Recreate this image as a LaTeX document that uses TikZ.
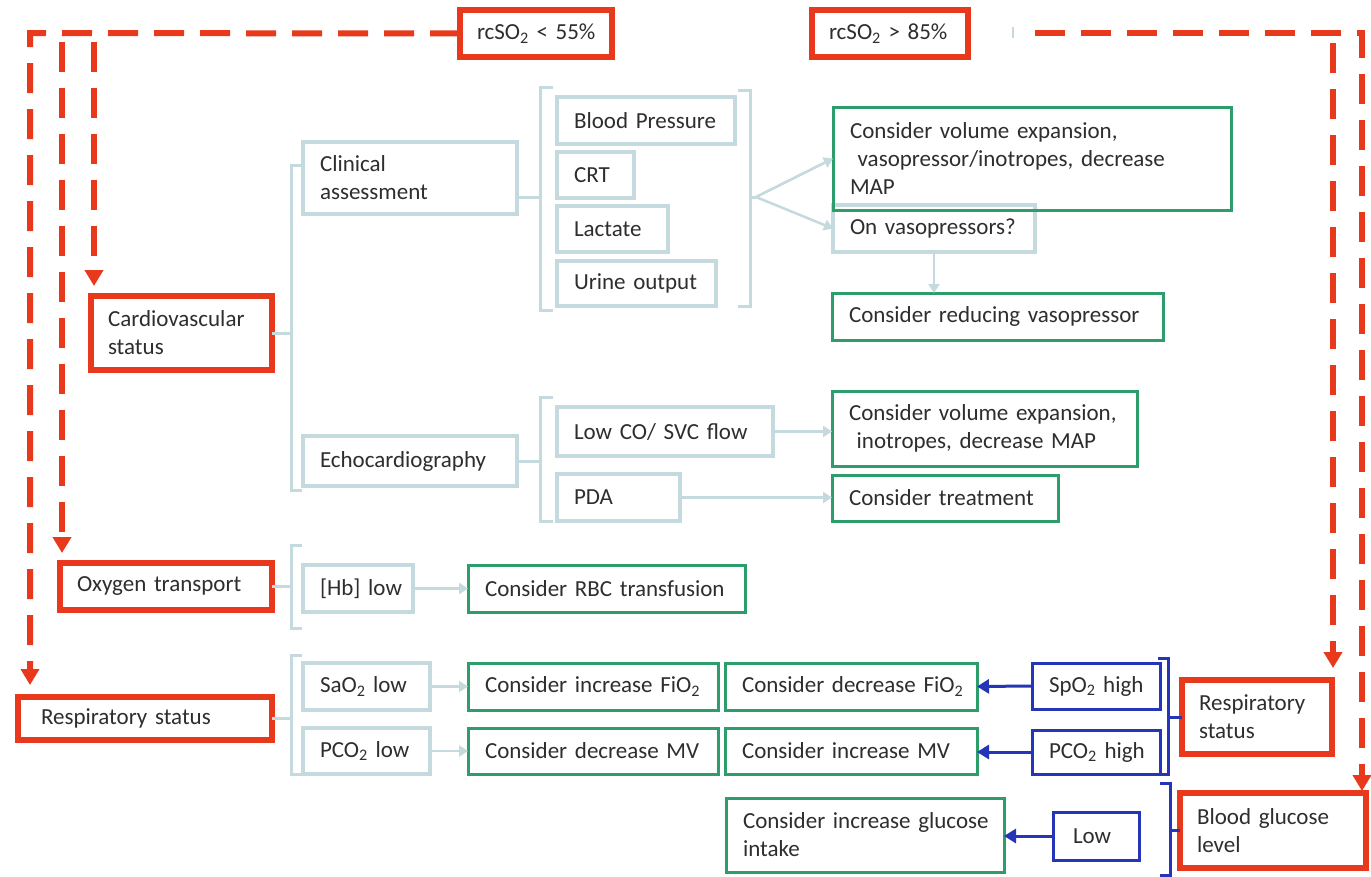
\documentclass[tikz,border=0pt]{standalone}
\usepackage{fontspec}
\setmainfont{Carlito}
\usetikzlibrary{arrows.meta}
\definecolor{rd}{HTML}{E8391D}
\definecolor{gb}{HTML}{C4DADE}
\definecolor{gn}{HTML}{2E9D6C}
\definecolor{bl}{HTML}{2535B8}
\definecolor{tx}{HTML}{2E2E2E}
\begin{document}
\begin{tikzpicture}[x=1pt,y=-1pt,font=\fontsize{23}{28}\selectfont,
  base/.style={anchor=north west, inner xsep=17pt, inner ysep=2pt, outer sep=0pt, align=left, text=tx},
  sz/.style 2 args={minimum width=#1pt, minimum height=#2pt, text width=#1pt-34pt},
  redbox/.style={base, draw=rd, line width=6.5pt},
  graybox/.style={base, draw=gb, line width=3.2pt},
  greenbox/.style={base, draw=gn, line width=3pt},
  bluebox/.style={base, draw=bl, line width=3pt},
  reddash/.style={draw=rd, line width=6pt, dash pattern=on 30pt off 16pt, -{Triangle[width=18pt,length=16pt]}},
  brk/.style={draw=gb, line width=3pt},
  bbrk/.style={draw=bl, line width=3pt},
  garrow/.style={draw=gb, line width=2.5pt, -{Triangle[width=11pt,length=9pt]}},
  barrow/.style={draw=bl, line width=3pt, -{Triangle[width=14pt,length=12pt]}}]
\useasboundingbox (0,0) rectangle (1371,876);
\fill[white] (0,0) rectangle (1371,876);

% red boxes
\node[redbox, sz={152}{47}] (lo) at (460,10) {\mbox{rcSO\textsubscript{2} < 55\%}};
\node[redbox, sz={156}{47}] (hi) at (812,10) {\mbox{rcSO\textsubscript{2} > 85\%}};
\node[redbox, sz={181}{74}] (cv) at (91,296) {\mbox{Cardiovascular}\\status};
\node[redbox, sz={212}{47}] (oxy) at (60,563) {\mbox{Oxygen transport}};
\node[redbox, sz={254}{43}, inner xsep=23pt, text width=208pt] (respL) at (18,697) {\mbox{Respiratory status}};
\node[redbox, sz={150}{74}] (respR) at (1182,680) {Respiratory\\status};
\node[redbox, sz={186}{75}] (glu) at (1180,793) {\mbox{Blood glucose}\\level};

% gray boxes
\node[graybox, sz={214}{72}] (clin) at (303,142) {Clinical\\assessment};
\node[graybox, sz={214}{50}] (echo) at (303,436) {Echocardiography};
\node[graybox, sz={178}{47}] (bp) at (557,97) {\mbox{Blood Pressure}};
\node[graybox, sz={77}{46}] (crt) at (557,152) {CRT};
\node[graybox, sz={111}{46}] (lac) at (557,206) {Lactate};
\node[graybox, sz={159}{45}] (uo) at (557,261) {\mbox{Urine output}};
\node[graybox, sz={202}{47}] (onvaso) at (833,205) {\mbox{On vasopressors?}};
\node[graybox, sz={216}{49}] (lowco) at (557,407) {\mbox{Low CO/ SVC flow}};
\node[graybox, sz={123}{47}] (pda) at (557,474) {PDA};
\node[graybox, sz={110}{47}] (hb) at (303,565) {\mbox{[Hb] low}};
\node[graybox, sz={127}{47}] (sao) at (303,663) {\mbox{SaO\textsubscript{2} low}};
\node[graybox, sz={127}{46}] (pcol) at (303,728) {\mbox{PCO\textsubscript{2} low}};

% green boxes
\node[greenbox, sz={398}{103}] (g1) at (833,107) {\mbox{Consider volume expansion,}\\\mbox{~vasopressor/inotropes, decrease}\\MAP};
\node[greenbox, sz={331}{47}] (g2) at (832,293) {\mbox{Consider reducing vasopressor}};
\node[greenbox, sz={305}{75}] (g3) at (832,391) {\mbox{Consider volume expansion,}\\\mbox{~inotropes, decrease MAP}};
\node[greenbox, sz={226}{46}] (g4) at (832,475) {\mbox{Consider treatment}};
\node[greenbox, sz={277}{47}] (g5) at (468,565) {\mbox{Consider RBC transfusion}};
\node[greenbox, sz={250}{47}] (g6) at (468,663) {\mbox{Consider increase FiO\textsubscript{2}}};
\node[greenbox, sz={250}{46}] (g7) at (468,728) {\mbox{Consider decrease MV}};
\node[greenbox, sz={252}{47}] (g8) at (725,663) {\mbox{Consider decrease FiO\textsubscript{2}}};
\node[greenbox, sz={252}{46}] (g9) at (725,728) {\mbox{Consider increase MV}};
\node[greenbox, sz={278}{74}] (g10) at (726,798) {\mbox{Consider increase glucose}\\intake};

% blue boxes
\node[bluebox, sz={128}{46}] (spo) at (1032,663) {\mbox{SpO\textsubscript{2} high}};
\node[bluebox, sz={128}{44}] (pcoh) at (1032,730) {\mbox{PCO\textsubscript{2} high}};
\node[bluebox, sz={86}{48}, inner xsep=20pt, text width=46pt] (low) at (1053,812) {Low};

% bracket coordinates
\coordinate (bcv) at (291,333);
\coordinate (bclin) at (540,197);
\coordinate (bclr) at (756,197);
\coordinate (becho) at (540,461);
\coordinate (boxy) at (291,586.5);
\coordinate (bresp) at (291,718.5);
\coordinate (bbr) at (1168,717);
\coordinate (bbg) at (1170,830.5);

% gray brackets
\draw[brk] (302,165) -- (291,165) -- (291,490) -- (302,490);
\draw[brk] (cv.east) -- (bcv);
\draw[brk] (553,87) -- (540,87) -- (540,310) -- (553,310);
\draw[brk] (clin.east |- bclin) -- (bclin);
\draw[brk] (738,90) -- (750,90) -- (750,306) -- (738,306);
\draw[brk] (750,197) -- (bclr);
\draw[brk] (553,397) -- (540,397) -- (540,521) -- (553,521);
\draw[brk] (echo.east) -- (becho);
\draw[brk] (302,545) -- (291,545) -- (291,628) -- (302,628);
\draw[brk] (oxy.east) -- (boxy);
\draw[brk] (302,655) -- (291,655) -- (291,774) -- (302,774);
\draw[brk] (respL.east) -- (bresp);

% blue brackets
\draw[bbrk] (1158,658) -- (1168,658) -- (1168,774) -- (1158,774);
\draw[bbrk] (bbr) -- (respR.west);
\draw[bbrk] (1160,783) -- (1170,783) -- (1170,875) -- (1160,875);
\draw[bbrk] (bbg) -- (glu.west);

% gray arrows
\draw[garrow] (bclr) -- (g1.west);
\draw[garrow] (bclr) -- (onvaso.west);
\draw[garrow] (onvaso.south) -- (onvaso.south |- g2.north);
\draw[garrow] (lowco.east) -- (lowco.east -| g3.west);
\draw[garrow] (pda.east) -- (pda.east -| g4.west);
\draw[garrow] (hb.east) -- (g5.west);
\draw[garrow] (sao.east) -- (g6.west);
\draw[garrow] (pcol.east) -- (g7.west);

% blue arrows
\draw[barrow] (spo.west) -- (g8.east);
\draw[barrow] (pcoh.west) -- (pcoh.west -| g9.east);
\draw[barrow] (low.west) -- (low.west -| g10.east);

% red dashed flows
\coordinate (tl) at (30,33);
\coordinate (t2) at (62,42);
\coordinate (t3) at (94,42);
\coordinate (tr0) at (1035,33);
\coordinate (tr) at (1362,33);
\coordinate (tr2) at (1333,43);
\draw[reddash] (lo.west) -- (tl) -- ([yshift=12pt]tl |- respL.north);
\draw[reddash] (t2) -- ([yshift=10pt]t2 |- oxy.north);
\draw[reddash] (t3) -- ([yshift=10pt]t3 |- cv.north);
\draw[reddash] (tr0) -- (tr) -- ([yshift=2pt]tr |- glu.north);
\draw[reddash] (tr2) -- ([yshift=12pt]tr2 |- respR.north);
\draw[gb, line width=1.5pt] (1013,27) -- (1013,38);
\end{tikzpicture}
\end{document}
